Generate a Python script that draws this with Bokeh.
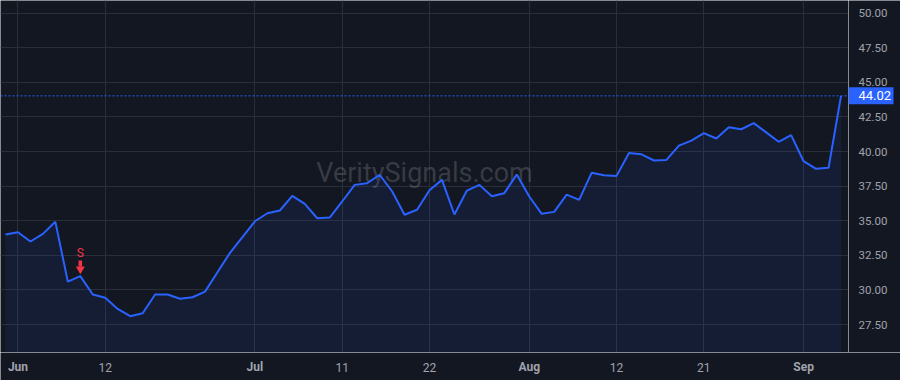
from bokeh.plotting import figure
from bokeh.layouts import row, column
from bokeh.models import Range1d, FixedTicker, Span, Label
from bokeh.core.properties import value
from bokeh.embed import file_html
from bokeh.resources import INLINE

# ---------------- data ----------------
prices = [34.00, 34.17, 33.50, 34.05, 34.92, 30.60, 31.00, 29.67, 29.43, 28.63,
          28.10, 28.32, 29.67, 29.67, 29.36, 29.47, 29.88, 31.28, 32.68, 33.81,
          34.96, 35.54, 35.74, 36.80, 36.22, 35.18, 35.23, 36.39, 37.59, 37.71,
          38.32, 37.13, 35.43, 35.79, 37.20, 37.95, 35.45, 37.18, 37.59, 36.77,
          36.99, 38.34, 36.75, 35.50, 35.64, 36.89, 36.51, 38.46, 38.29, 38.24,
          39.90, 39.80, 39.35, 39.39, 40.43, 40.79, 41.33, 40.94, 41.76, 41.61,
          42.05, 41.38, 40.70, 41.18, 39.30, 38.75, 38.82, 44.02]
tick_idx = [1, 8, 20, 27, 34, 42, 49, 56, 64]
tick_labels = ["Jun", "12", "Jul", "11", "22", "Aug", "12", "21", "Sep"]
month_names = ["Jun", "Jul", "Aug", "Sep"]
y_ticks = [27.5, 30.0, 32.5, 35.0, 37.5, 40.0, 42.5, 45.0, 47.5, 50.0]
last_price = 44.02
signal_idx = 6
signal_text = "S"
watermark = "VeritySignals.com"

# ---------------- style ----------------
BG = "#131722"
GRID = "#2a2e39"
BLUE = "#2962ff"
RED = "#f23645"
TXT = "#a0a3ab"
FONT = "Roboto"
W, H = 900, 380
MAIN_W, SIDE_W = 848, 52
BOTTOM = 28
PLOT_H = H - BOTTOM
X0, X1 = -0.4, 67.6
Y0, Y1 = 25.48, 50.91

xs = list(range(len(prices)))

# ---------------- main pane ----------------
p = figure(width=MAIN_W, height=PLOT_H, x_range=Range1d(X0, X1),
           y_range=Range1d(Y0, Y1), output_backend="svg", toolbar_location=None,
           x_axis_location=None, y_axis_location=None,
           min_border=0, background_fill_color=BG,
           border_fill_color=BG, outline_line_color=None)

p.xgrid.ticker = FixedTicker(ticks=tick_idx)
p.ygrid.ticker = FixedTicker(ticks=y_ticks)
p.grid.grid_line_color = GRID
p.grid.grid_line_width = 1

# watermark
p.add_layout(Label(x=(X0 + X1) / 2, y=(Y0 + Y1) / 2, y_offset=4, text=watermark,
                   text_align="center", text_baseline="middle",
                   text_font=FONT, text_font_size="27px",
                   text_color="#ffffff", text_alpha=0.16, level="underlay"))

# area + line
p.varea(x=xs, y1=Y0, y2=prices, fill_color=BLUE, fill_alpha=0.09)
p.line(xs, prices, line_color=BLUE, line_width=2)

# last price dotted line
p.add_layout(Span(location=last_price, dimension="width", line_color=BLUE,
                  line_dash="2 2", line_width=1))

# sell signal
ppu = PLOT_H / (Y1 - Y0)
sy = prices[signal_idx]
p.text(x=[signal_idx], y=[sy], text=[signal_text], y_offset=-23,
       text_align="center", text_baseline="middle", text_color=RED,
       text_font=value(FONT), text_font_size="12px")
p.rect(x=[signal_idx], y=[sy + 12.5 / ppu], width=3.5, height=6,
       width_units="screen", height_units="screen", fill_color=RED, line_color=None)
p.scatter(x=[signal_idx], y=[sy + 7 / ppu], marker="inverted_triangle", size=9,
          fill_color=RED, line_color=None)

# ---------------- price scale (right) ----------------
s = figure(width=SIDE_W, height=PLOT_H, x_range=Range1d(0, SIDE_W), y_range=p.y_range,
           output_backend="svg", toolbar_location=None,
           x_axis_location=None, y_axis_location=None,
           min_border=0, background_fill_color=BG,
           border_fill_color=BG, outline_line_color=None)
s.grid.visible = False
s.text(x=[10] * len(y_ticks), y=y_ticks, text=[f"{v:.2f}" for v in y_ticks],
       text_align="left", text_baseline="middle", text_color=TXT,
       text_font=value(FONT), text_font_size="11.5px")
s.rect(x=[22.5], y=[last_price], width=45, height=17, height_units="screen",
       fill_color=BLUE, line_color=None)
s.text(x=[10], y=[last_price], text=[f"{last_price:.2f}"], text_align="left",
       text_baseline="middle", text_color="#ffffff",
       text_font=value(FONT), text_font_size="13px")

# ---------------- time scale (bottom) ----------------
b = figure(width=W, height=BOTTOM,
           x_range=Range1d(X0, X0 + (X1 - X0) * W / MAIN_W), y_range=Range1d(0, BOTTOM),
           output_backend="svg", toolbar_location=None,
           x_axis_location=None, y_axis_location=None,
           min_border=0, background_fill_color=BG,
           border_fill_color=BG, outline_line_color=None)
b.grid.visible = False
is_month = [t in month_names for t in tick_labels]
b.text(x=[i for i, m in zip(tick_idx, is_month) if m],
       y=[BOTTOM - 14.7] * sum(is_month),
       text=[t for t, m in zip(tick_labels, is_month) if m],
       text_align="center", text_baseline="middle", text_color=TXT,
       text_font=value(FONT), text_font_size="12px", text_font_style="bold")
b.text(x=[i for i, m in zip(tick_idx, is_month) if not m],
       y=[BOTTOM - 14.7] * (len(is_month) - sum(is_month)),
       text=[t for t, m in zip(tick_labels, is_month) if not m],
       text_align="center", text_baseline="middle", text_color=TXT,
       text_font=value(FONT), text_font_size="12px")

layout = column(row(p, s, spacing=0), b, spacing=0)
open("out.html", "w").write(file_html(layout, INLINE))
